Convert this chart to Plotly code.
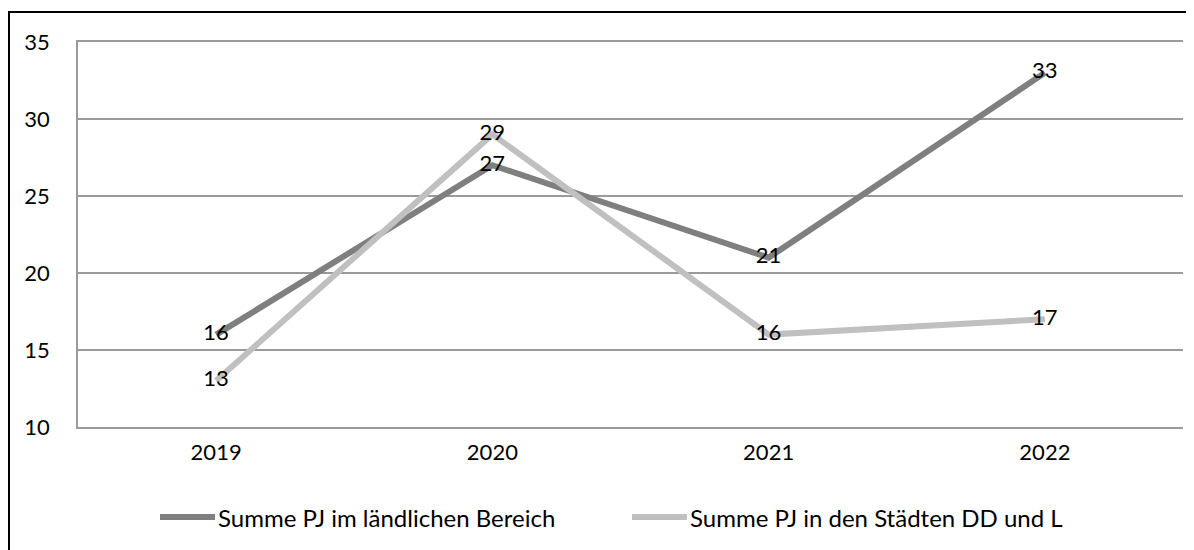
import plotly.graph_objects as go

years = ["2019", "2020", "2021", "2022"]
laendlich = [16, 27, 21, 33]
staedte = [13, 29, 16, 17]
y_ticks = [10, 15, 20, 25, 30, 35]
series_names = ["Summe PJ im ländlichen Bereich", "Summe PJ in den Städten DD und L"]
series_colors = ["#7f7f7f", "#c0c0c0"]

FONT = "Lato"
OFF = 8  # page body margin offset
W, H = 1194 - OFF, 550 - OFF
# plot area in window pixels: x 78..1183, y 42..427
L, T = 78 - OFF, 42 - OFF
R = W - (1183 - OFF)
B = H - (427 - OFF)
pw, ph = W - L - R, H - T - B

def px_x(x):  # window pixel -> paper
    return (x - OFF - L) / pw

def px_y(y):
    return (H - B - (y - OFF)) / ph

fig = go.Figure()
for vals, name, col in zip([laendlich, staedte], series_names, series_colors):
    fig.add_trace(go.Scatter(
        x=years, y=vals, mode="lines+text", name=name,
        line=dict(color=col, width=6), text=[str(v) for v in vals],
        textposition="middle center", textfont=dict(family=FONT, size=22, color="#000000"),
        showlegend=False,
    ))

fig.update_layout(
    width=W, height=H,
    margin=dict(l=L, r=R, t=T, b=B, pad=0),
    paper_bgcolor="white", plot_bgcolor="white",
    font=dict(family=FONT, size=22, color="#000000"),
    showlegend=False,
    xaxis=dict(type="category", range=[-0.5, 3.5], showgrid=False, zeroline=False,
               showline=True, mirror=True, linecolor="#9a9a9a", linewidth=1.5,
               ticks="", tickfont=dict(size=22), ticklabelstandoff=5),
    yaxis=dict(range=[10, 35], tickvals=y_ticks, showgrid=True, gridcolor="#9a9a9a",
               gridwidth=1.5, zeroline=False, showline=True, linecolor="#9a9a9a",
               linewidth=1.5, ticks="", tickfont=dict(size=22), ticklabelstandoff=22),
)

# manual legend (line sample + label)
legend_pos = [(160, 215), (632, 687)]
for (x0, x1), name, col in zip(legend_pos, series_names, series_colors):
    fig.add_shape(type="line", xref="paper", yref="paper",
                  x0=px_x(x0), x1=px_x(x1), y0=px_y(517), y1=px_y(517),
                  line=dict(color=col, width=6))
    fig.add_annotation(xref="paper", yref="paper", x=px_x(x1 + 1), y=px_y(517),
                       xanchor="left", yanchor="middle", text=name, showarrow=False,
                       font=dict(family=FONT, size=24, color="#000000"))

# outer chart frame
fig.add_shape(type="rect", xref="paper", yref="paper",
              x0=px_x(9), x1=px_x(1210), y0=px_y(570), y1=px_y(12),
              line=dict(color="#000000", width=2), layer="below")

fig.write_html("out.html")
